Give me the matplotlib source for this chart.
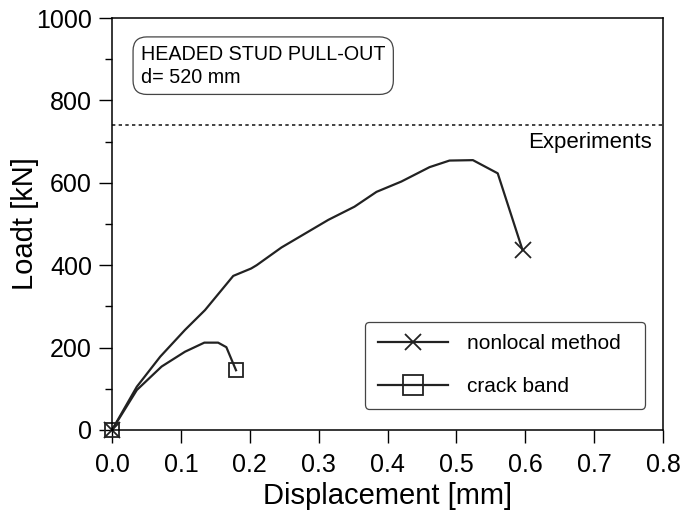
import matplotlib
matplotlib.use("Agg")
import matplotlib.pyplot as plt
from matplotlib.ticker import MultipleLocator

plt.rcParams['font.family'] = ['Liberation Sans', 'DejaVu Sans']

# nonlocal method curve
nonlocal_x = [0.0, 0.036, 0.07, 0.106, 0.135, 0.176, 0.202, 0.21, 0.246, 0.314, 0.352, 0.384,
              0.42, 0.461, 0.49, 0.524, 0.56, 0.596]
nonlocal_y = [0, 105, 178, 243, 291, 374, 392, 400, 443, 510, 542, 578,
              603, 638, 654, 655, 623, 437]

# crack band curve
crack_x = [0.0, 0.036, 0.072, 0.106, 0.134, 0.154, 0.166, 0.18]
crack_y = [0, 97, 154, 190, 212, 212, 201, 145]

experiment_load = 740

fig = plt.figure(figsize=(6.86, 5.12), dpi=100)
ax = fig.add_axes([0.1633, 0.1602, 0.8032, 0.8046])

ax.plot(nonlocal_x, nonlocal_y, color='#222222', lw=1.6, marker='x', markersize=11,
        markeredgewidth=1.3, markevery=[0, len(nonlocal_x) - 1], clip_on=False,
        label='nonlocal method  ')
ax.plot(crack_x, crack_y, color='#222222', lw=1.6, marker='s', markersize=10,
        markerfacecolor='none', markeredgewidth=1.3, markevery=[0, len(crack_x) - 1],
        clip_on=False, label='crack band')

ax.axhline(experiment_load, color='#222222', lw=1.2, linestyle=(0, (2, 2)))
ax.text(0.784, experiment_load - 17, 'Experiments', ha='right', va='top', fontsize=16)

ax.text(0.042, 935, 'HEADED STUD PULL-OUT\nd= 520 mm', ha='left', va='top', fontsize=14.2,
        linespacing=1.25,
        bbox=dict(boxstyle='round,pad=0.4,rounding_size=0.7', fc='white', ec='#444444', lw=0.9))

ax.set_xlim(0, 0.8)
ax.set_ylim(0, 1000)
ax.xaxis.set_major_locator(MultipleLocator(0.1))
ax.yaxis.set_major_locator(MultipleLocator(200))
ax.yaxis.set_minor_locator(MultipleLocator(100))
ax.xaxis.set_major_formatter(plt.FormatStrFormatter('%.1f'))
ax.tick_params(axis='both', which='major', labelsize=18, length=9.5, width=1, direction='out')
ax.tick_params(axis='x', which='major', pad=7)
ax.tick_params(axis='y', which='major', pad=5)
ax.tick_params(axis='y', which='minor', length=5, width=1, direction='out')
for s in ax.spines.values():
    s.set_linewidth(1.1)

ax.set_xlabel('Displacement [mm]', fontsize=21, labelpad=4)
ax.set_ylabel('Loadt [kN]', fontsize=21, labelpad=-2)

leg = ax.legend(loc='lower right', bbox_to_anchor=(0.967, 0.052), fontsize=15, handlelength=3.4,
                handletextpad=0.9, borderpad=0.6, labelspacing=1.15, borderaxespad=0,
                fancybox=True, edgecolor='#444444', framealpha=1)
leg.get_frame().set_linewidth(0.9)
leg.legend_handles[1].set_markersize(15)

fig.savefig('out.png', dpi=100)
